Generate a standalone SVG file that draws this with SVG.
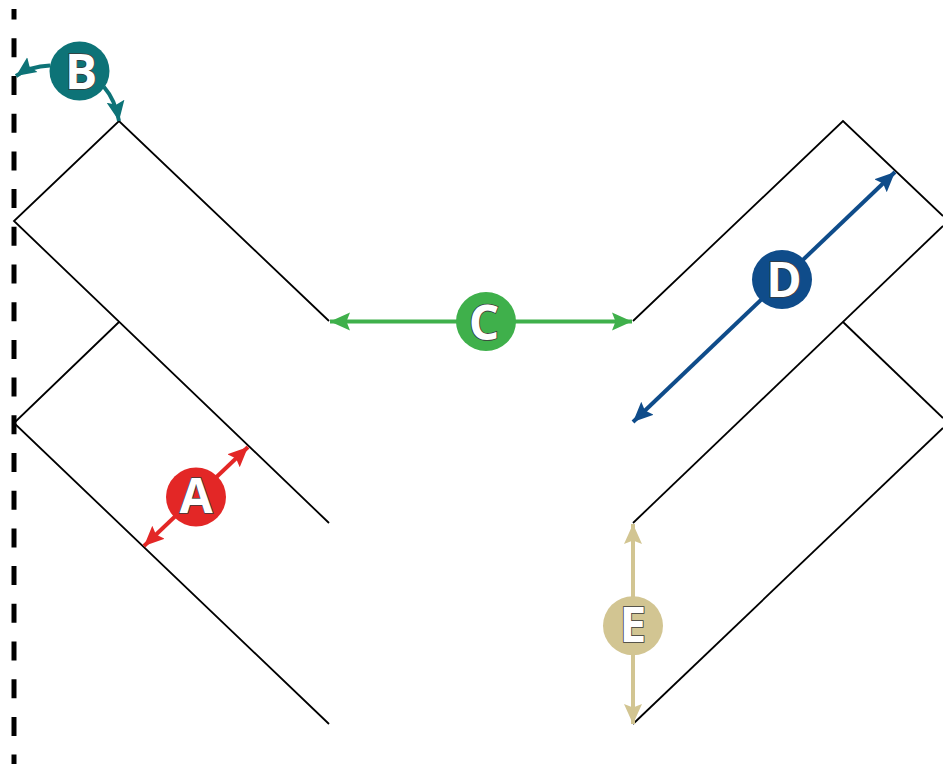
<svg xmlns="http://www.w3.org/2000/svg" width="943" height="764" viewBox="0 0 943 764">
<style>
.wall{fill:none;stroke:#000;stroke-width:1.8}
.axis{fill:none;stroke:#000;stroke-width:5;stroke-dasharray:19 18.7}
.conn{fill:none;stroke-width:4}
.lbl{font-family:"Open Sans",sans-serif;font-weight:700;font-size:48px;text-anchor:middle;fill:#fff;stroke:#3a3a3a;stroke-width:1.6;paint-order:stroke}
</style>
<defs>
<marker id="hA" markerUnits="userSpaceOnUse" markerWidth="24" markerHeight="22" refX="20" refY="10" orient="auto-start-reverse"><path d="M0 1L20 10L0 19L3.500 10Z" fill="#e32726"/></marker>
<marker id="hB" markerUnits="userSpaceOnUse" markerWidth="24" markerHeight="22" refX="20" refY="10" orient="auto-start-reverse"><path d="M0 1L20 10L0 19L3.500 10Z" fill="#0d7377"/></marker>
<marker id="hC" markerUnits="userSpaceOnUse" markerWidth="24" markerHeight="22" refX="20" refY="10" orient="auto-start-reverse"><path d="M0 1L20 10L0 19L3.500 10Z" fill="#3fb04b"/></marker>
<marker id="hD" markerUnits="userSpaceOnUse" markerWidth="24" markerHeight="22" refX="20" refY="10" orient="auto-start-reverse"><path d="M0 1L20 10L0 19L3.500 10Z" fill="#0f4c8a"/></marker>
<marker id="hE" markerUnits="userSpaceOnUse" markerWidth="24" markerHeight="22" refX="20" refY="10" orient="auto-start-reverse"><path d="M0 1L20 10L0 19L3.500 10Z" fill="#d2c592"/></marker>
</defs>
<rect width="943" height="764" fill="#fff"/>
<g id="structure">
<path class="axis" d="M14 9V19.600M14 38.300V764"/>
<path class="wall" d="M329 321L119 121L14 221L329 523"/>
<path class="wall" d="M119 322L14 423L329 724"/>
<path class="wall" d="M633 321L843 121L943 216"/>
<path class="wall" d="M633 523L943 226"/>
<path class="wall" d="M843 322L943 418"/>
<path class="wall" d="M633 724L943 428"/>
</g>
<g id="connectors">
<path class="conn" stroke="#e32726" marker-start="url(#hA)" marker-end="url(#hA)" d="M144 546L248 447"/>
<path class="conn" stroke="#0d7377" marker-end="url(#hB)" d="M50 65.500C38 66 26 69 16 76"/>
<path class="conn" stroke="#0d7377" marker-end="url(#hB)" d="M104 87C111 95 116 104 119 121"/>
<path class="conn" stroke="#3fb04b" marker-start="url(#hC)" marker-end="url(#hC)" d="M330 321.500H632"/>
<path class="conn" stroke="#0f4c8a" marker-start="url(#hD)" marker-end="url(#hD)" d="M633 422L895 172"/>
<path class="conn" stroke="#d2c592" marker-start="url(#hE)" marker-end="url(#hE)" d="M633 524V724"/>
</g>
<g id="node-a"><ellipse cx="196" cy="497" rx="30" ry="29.500" fill="#e32726"/><text class="lbl" x="196" y="513">A</text></g>
<g id="node-b"><ellipse cx="79.500" cy="71" rx="30" ry="29.500" fill="#0d7377"/><text class="lbl" x="81" y="89">B</text></g>
<g id="node-c"><ellipse cx="486" cy="321.500" rx="30" ry="29.500" fill="#3fb04b"/><text class="lbl" x="484" y="339.500">C</text></g>
<g id="node-d"><ellipse cx="782" cy="279.500" rx="30" ry="29.500" fill="#0f4c8a"/><text class="lbl" x="784" y="296.500">D</text></g>
<g id="node-e"><ellipse cx="633" cy="625.700" rx="30" ry="29.500" fill="#d2c592"/><text class="lbl" x="633" y="642">E</text></g>
</svg>
